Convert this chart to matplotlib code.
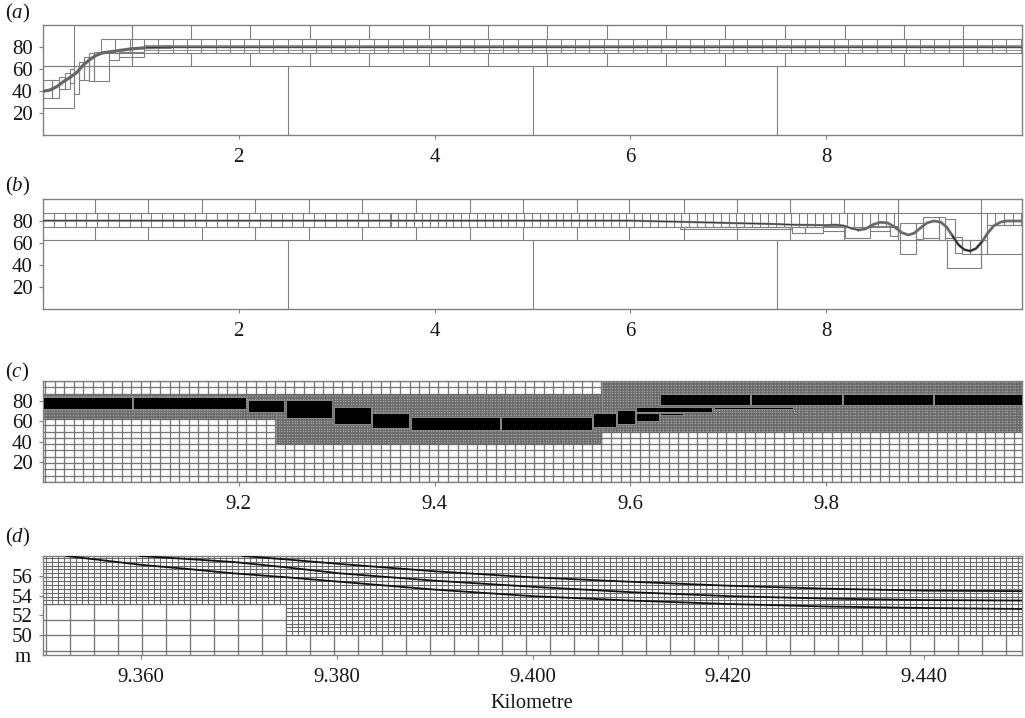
import numpy as np
import matplotlib
matplotlib.use("Agg")
import matplotlib.pyplot as plt
from matplotlib.patches import Rectangle

plt.rcParams['font.family'] = ['Liberation Serif', 'DejaVu Serif']
plt.rcParams['mathtext.fontset'] = 'custom'
plt.rcParams['mathtext.it'] = 'Liberation Serif:italic'
plt.rcParams['mathtext.rm'] = 'Liberation Serif'

W, H = 1025, 718
GRAY = '#808080'
TXT = '#151515'

# panel (a): water surface and mesh cells
a_curve_x = [0, 0.071, 0.14, 0.208, 0.276, 0.344, 0.412, 0.48, 0.548, 0.616, 0.719, 0.889, 1.059, 1.297, 10]
a_curve_y = [39.7, 40.9, 43.9, 48.5, 52.4, 56.7, 63.6, 68.8, 72.7, 74.8, 76, 78.2, 79.4, 79.8, 79.8]
a_top_edges = [0.91, 1.51, 2.11, 2.73, 3.33, 3.94, 4.55, 5.15, 5.76, 6.36, 6.97, 7.58, 8.19, 8.79, 9.40]
a_base_edges = [2.5, 5, 7.5]
a_boxes = [(0, 0.32, 25, 62.5), (0.32, 0.91, 62.5, 100),
           (0, 0.088, 34, 50), (0.088, 0.167, 34, 50), (0.167, 0.225, 41.5, 53),
           (0.225, 0.276, 41.5, 56), (0.276, 0.32, 47, 60), (0.32, 0.371, 37, 62.5),
           (0.371, 0.422, 50, 66.6), (0.422, 0.47, 50, 70.6), (0.47, 0.521, 49.4, 74.2),
           (0.521, 0.674, 49.4, 75), (0.675, 0.776, 68, 75), (0.776, 1.03, 71, 75)]
# x0, x1, y0, y1, dx
a_rows = [(0.59, 10, 75, 87.5, 0.1468)]

# panel (b)
b_curve_x = [0, 6.0, 6.5, 7.0, 7.5, 7.66, 8.0, 8.1, 8.18, 8.26, 8.33, 8.40, 8.48, 8.55, 8.63, 8.70, 8.77,
             8.84, 8.90, 8.96, 9.03, 9.10, 9.17, 9.23, 9.29, 9.35, 9.41, 9.47, 9.53, 9.59, 9.65, 9.71,
             9.78, 9.84, 10]
b_curve_y = [80.3, 80.3, 79.3, 78.2, 77.2, 76.6, 76.2, 76.6, 75.8, 73.2, 71.8, 72.8, 76.8, 78.8, 78.2, 74.5, 69.5,
             67.3, 69, 73.5, 78.3, 80, 79, 74.5, 66.5, 58.5, 54, 52.7, 55, 61, 69, 75.5,
             79, 80, 80]
b_top_edges = [0.528, 1.076, 1.624, 2.166, 2.717, 3.261, 3.81, 4.36, 4.9, 5.45, 5.99, 6.55, 7.09, 7.63, 8.18, 8.73]
b_base_edges = [2.5, 5, 7.5]
b_rows = [(0, 3.55, 75, 87.5, 0.1108), (3.55, 8.74, 75, 87.5, 0.0803), (9.64, 10, 76.4, 87.5, 0.0885)]
b_boxes = [(6.51, 7.65, 72.5, 75), (7.65, 7.78, 68.8, 75), (7.78, 7.97, 68.8, 75), (7.97, 8.19, 71, 75),
           (8.19, 8.45, 65, 75), (8.45, 8.65, 71, 75), (8.65, 8.73, 66, 75),
           (8.754, 8.918, 50, 78), (8.918, 8.99, 64, 78), (8.99, 9.152, 64.2, 84), (9.152, 9.213, 62.5, 84),
           (9.213, 9.316, 65, 81.8), (9.237, 9.578, 37.5, 62.5), (9.316, 9.384, 50.6, 65.7),
           (9.384, 9.47, 50, 62.5), (9.47, 9.578, 50, 62.5), (9.578, 9.64, 50, 62.5), (9.64, 10, 50, 76.4)]
b_full_edges = [8.73, 9.58]

# panel (c): mesh blocks x0, x1, y0, y1
c_fine_blocks = [(9.0, 9.238, 62.5, 87.5), (9.238, 9.571, 37.5, 87.5), (9.571, 10.0, 50, 100)]
c_black = [(9.0, 9.0906, 72.4, 83.7), (9.0915, 9.2073, 72.4, 83.7), (9.209, 9.2465, 69.6, 80.7),
           (9.248, 9.2955, 63.6, 80.7), (9.2972, 9.3347, 57, 74.7), (9.3363, 9.3741, 53.6, 68.3),
           (9.3755, 9.4665, 51.3, 64.6), (9.468, 9.5604, 51.3, 64.6), (9.5615, 9.585, 54, 68),
           (9.5863, 9.6047, 57.3, 71.4), (9.606, 9.629, 60.3, 68), (9.606, 9.683, 69.6, 74.7),
           (9.630, 9.654, 66.6, 68.3), (9.685, 9.766, 72.7, 74), (9.630, 9.722, 76.4, 87),
           (9.7235, 9.8158, 76.4, 87), (9.817, 9.909, 76.4, 87), (9.910, 10.0, 76.4, 87)]

# panel (d)
d_low_x = [9.3524, 9.3558, 9.3601, 9.3647, 9.3694, 9.3749, 9.3803, 9.3901, 9.3999, 9.41, 9.42, 9.43, 9.44, 9.45]
d_low_y = [58, 57.6, 57.1, 56.7, 56.25, 55.85, 55.4, 54.6, 53.95, 53.5, 53.15, 52.9, 52.75, 52.65]
d_mid_x = [9.3599, 9.3647, 9.3694, 9.3749, 9.3803, 9.3901, 9.3999, 9.41, 9.42, 9.43, 9.44, 9.45]
d_mid_y = [58, 57.7, 57.4, 56.85, 56.25, 55.5, 54.9, 54.35, 53.95, 53.7, 53.55, 53.5]
d_top_x = [9.3704, 9.3749, 9.3803, 9.3901, 9.3999, 9.41, 9.42, 9.43, 9.44, 9.45]
d_top_y = [58, 57.65, 57.2, 56.45, 55.85, 55.4, 55, 54.7, 54.5, 54.45]
d_fine_blocks = [(9.35, 9.37485, 53.125, 58), (9.37485, 9.45, 50, 58)]


def add_panel(top, bottom, xlim, ylim, xticks, xlabels, yticks, ylabels):
    ax = fig.add_axes([43 / W, 1 - bottom / H, 979 / W, (bottom - top) / H])
    ax.set_xlim(xlim)
    ax.set_ylim(ylim)
    ax.set_xticks(xticks, xlabels)
    ax.set_yticks(yticks, ylabels)
    ax.tick_params(length=3, width=0.8, color=GRAY, labelsize=15, labelcolor=TXT)
    ax.tick_params(axis='x', pad=6.5)
    ax.tick_params(axis='y', pad=4.5)
    for s in ax.spines.values():
        s.set_color(GRAY)
        s.set_linewidth(1.0)
    return ax


def mesh(ax, x0, x1, y0, y1, dx, dy, xa, ya, lw=0.8, color=GRAY):
    xs = xa + dx * np.arange(np.ceil((x0 - xa) / dx), np.floor((x1 - xa) / dx) + 1)
    ys = ya + dy * np.arange(np.ceil((y0 - ya) / dy), np.floor((y1 - ya) / dy) + 1)
    ax.vlines(xs, y0, y1, colors=color, lw=lw, zorder=1)
    ax.hlines(ys, x0, x1, colors=color, lw=lw, zorder=1)


def box(ax, b, lw=0.8):
    ax.add_patch(Rectangle((b[0], b[2]), b[1] - b[0], b[3] - b[2], fill=False, ec=GRAY, lw=lw, zorder=2))


def river_panel(ax, top_edges, base_edges, rows, boxes, base_end):
    ax.hlines(62.5, 0, base_end, colors=GRAY, lw=0.8)
    ax.hlines(87.5, rows[0][0], 10, colors=GRAY, lw=0.8)
    ax.vlines(base_edges, 0, 62.5, colors=GRAY, lw=0.8)
    ax.vlines(top_edges, 87.5, 100, colors=GRAY, lw=0.8)
    ax.vlines(top_edges, 62.5, 75, colors=GRAY, lw=0.8)
    for x0, x1, y0, y1, dx in rows:
        ax.hlines(y0, x0, x1, colors=GRAY, lw=0.8)
        ax.vlines(np.arange(x0, x1, dx), y0, y1, colors=GRAY, lw=0.8)
    for b in boxes:
        box(ax, b)


fig = plt.figure(figsize=(W / 100, H / 100), dpi=100)

# (a)
ax_a = add_panel(25, 135, (0, 10), (0, 100), [2, 4, 6, 8], ['2', '4', '6', '8'], [20, 40, 60, 80], ['20', '40', '60', '80'])
river_panel(ax_a, a_top_edges, a_base_edges, a_rows, a_boxes, 10)
ax_a.hlines([77.6, 81.6], 1.03, 10, colors='#909090', lw=0.7, zorder=3)
ax_a.plot(a_curve_x[:14], a_curve_y[:14], color='#666666', lw=2.3, zorder=4)
ax_a.plot(a_curve_x[-3:], a_curve_y[-3:], color='#8a8a8a', lw=1.6, zorder=4)
ax_a.plot(a_curve_x[-3:], a_curve_y[-3:], color='#333333', lw=0.7, zorder=5)

# (b)
ax_b = add_panel(199, 309, (0, 10), (0, 100), [2, 4, 6, 8], ['2', '4', '6', '8'], [20, 40, 60, 80], ['20', '40', '60', '80'])
river_panel(ax_b, b_top_edges, b_base_edges, b_rows, b_boxes, 9.237)
ax_b.vlines(b_full_edges[0], 62.5, 100, colors=GRAY, lw=0.8)
ax_b.vlines(b_full_edges[1], 37.5, 100, colors=GRAY, lw=0.8)
ax_b.plot(b_curve_x[:11], b_curve_y[:11], color='#8a8a8a', lw=1.6, zorder=4)
ax_b.plot(b_curve_x[:11], b_curve_y[:11], color='#333333', lw=0.7, zorder=5)
ax_b.plot(b_curve_x[10:], b_curve_y[10:], color='#6a6a6a', lw=2.0, zorder=4)
ax_b.plot(b_curve_x[24:30], b_curve_y[24:30], color='#222222', lw=0.9, zorder=5)

# (c)
ax_c = add_panel(381, 482, (9, 10), (0, 100), [9.2, 9.4, 9.6, 9.8], ['9.2', '9.4', '9.6', '9.8'], [20, 40, 60, 80], ['20', '40', '60', '80'])
mesh(ax_c, 9, 10, 0, 100, 0.0098, 6.25, 9.002, 0, lw=0.95, color='#777777')
for x0, x1, y0, y1 in c_fine_blocks:
    # cells about a pixel wide, the underlay keeps them from showing moire
    ax_c.add_patch(Rectangle((x0, y0), x1 - x0, y1 - y0, fc='#a2a2a2', ec='none', zorder=1))
    mesh(ax_c, x0, x1, y0, y1, 0.0098 / 6, 1.5625, 9.002, 0, lw=0.6, color='#6a6a6a')
for x0, x1, y0, y1 in c_black:
    ax_c.add_patch(Rectangle((x0, y0), x1 - x0, y1 - y0, fc='black', ec='#8a8a8a', lw=0.7, zorder=4))

# (d)
ax_d = add_panel(556, 655, (9.35, 9.45), (48, 58), [9.36, 9.38, 9.40, 9.42, 9.44], ['9.360', '9.380', '9.400', '9.420', '9.440'],
                 [50, 52, 54, 56], ['50', '52', '54', '56'])
mesh(ax_d, 9.35, 9.45, 48, 58, 0.002451, 1.5625, 9.37485, 50, lw=0.95, color='#777777')
for x0, x1, y0, y1 in d_fine_blocks:
    ax_d.add_patch(Rectangle((x0, y0), x1 - x0, y1 - y0, fc='white', ec='none', zorder=1))
    mesh(ax_d, x0, x1, y0, y1, 0.002451 / 4, 1.5625 / 4, 9.37485, 50, lw=0.8, color='#6a6a6a')
ax_d.plot(d_low_x, d_low_y, color='#111111', lw=1.3, zorder=5)
ax_d.plot(d_mid_x, d_mid_y, color='#111111', lw=1.3, zorder=5)
ax_d.plot(d_top_x, d_top_y, color='#111111', lw=1.3, zorder=5)

for label, py in [('a', 13), ('b', 186), ('c', 372), ('d', 537)]:
    fig.text(5 / W, 1 - py / H, '($\\mathit{%s}$)' % label, fontsize=15, color=TXT, ha='left', va='center')
fig.text(31 / W, 1 - 657 / H, 'm', fontsize=15, color=TXT, ha='right', va='center')
fig.text(532 / W, 1 - 703 / H, 'Kilometre', fontsize=14.8, color=TXT, ha='center', va='center')

fig.savefig('out.png', dpi=100)
